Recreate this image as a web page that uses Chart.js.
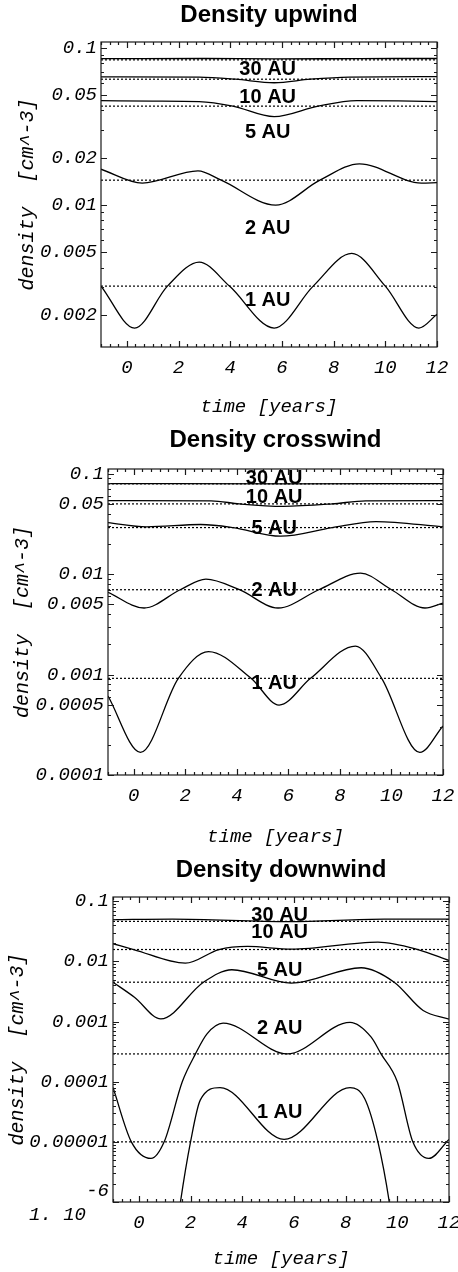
<!DOCTYPE html>
<html>
<head>
<meta charset="utf-8">
<script src="https://cdn.jsdelivr.net/npm/chart.js@4.4.1/dist/chart.umd.min.js"></script>
<style>
  html, body { margin: 0; padding: 0; background: #fff; }
  canvas { position: absolute; left: 0; }
</style>
</head>
<body>
<canvas id="upwind" width="458" height="420" style="top:0px"></canvas>
<canvas id="crosswind" width="458" height="430" style="top:420px"></canvas>
<canvas id="downwind" width="458" height="422" style="top:850px"></canvas>
<script>
// time axis
const timeRange = [-1, 12];
const timeTicks = [0, 2, 4, 6, 8, 10, 12];
const shells = ['30 AU', '10 AU', '5 AU', '2 AU', '1 AU'];

// upwind: [time, density]
const up30 = [[-1, 0.0855], [3, 0.0856], [5.7, 0.0851], [9, 0.0855], [12, 0.0856]];
const up10 = [[-1, 0.0654], [2.8, 0.0651], [4.2, 0.0632], [5.7, 0.0600], [7.1, 0.0632], [8.6, 0.0652], [12, 0.0656]];
const up5 = [[-1, 0.0462], [1, 0.0458], [2.8, 0.0455], [4.1, 0.0426], [5.7, 0.0365], [7.4, 0.0426], [8.9, 0.0462], [10.5, 0.0460], [12, 0.0455]];
const up2 = [[-1, 0.0169], [0.6, 0.0138], [2.75, 0.0165], [3.65, 0.0144], [5.76, 0.0100], [7.47, 0.0144], [9.0, 0.0183], [11.4, 0.0138], [12, 0.0139]];
const up1 = [[-1, 0.00305], [0.3, 0.00165], [1.57, 0.00305], [2.8, 0.00433], [3.97, 0.00305], [5.7, 0.00165], [7.21, 0.00305], [8.7, 0.00492], [10.0, 0.00305], [11.3, 0.00165], [12, 0.00202]];
const upRef = [0.0839, 0.0632, 0.0426, 0.0144, 0.00305];
const upLabelAt = [0.0724, 0.0487, 0.0288, 0.00714, 0.00248];
const upTicks = [0.1, 0.05, 0.02, 0.01, 0.005, 0.002];
const upRange = [0.00125, 0.109];

// crosswind
const cross30 = [[-1, 0.0795], [6, 0.0790], [12, 0.0795]];
const cross10 = [[-1, 0.0538], [3, 0.0535], [4.1, 0.0499], [5.8, 0.0472], [7.7, 0.0499], [9, 0.0535], [12, 0.0538]];
const cross5 = [[-1, 0.0325], [0.5, 0.0295], [2.6, 0.0311], [3.85, 0.0290], [5.7, 0.0238], [7.7, 0.0290], [9.4, 0.0333], [12, 0.0295]];
const cross2 = [[-1, 0.00658], [0.4, 0.00459], [1.8, 0.00698], [2.8, 0.0089], [4.1, 0.00698], [5.6, 0.00459], [7.18, 0.00698], [8.8, 0.0102], [10.0, 0.00698], [11.3, 0.00459], [12, 0.00514]];
const cross1 = [[-1, 0.000611], [0.26, 0.000168], [1.73, 0.000916], [2.9, 0.00169], [4.55, 0.000916], [5.64, 0.000497], [6.86, 0.000916], [8.6, 0.00192], [9.62, 0.000916], [11.1, 0.000168], [12, 0.000308]];
const crossRef = [0.0790, 0.0499, 0.0290, 0.00698, 0.000916];
const crossLabelAt = [0.0898, 0.058, 0.0286, 0.00693, 0.000822];
const crossTicks = [0.1, 0.05, 0.01, 0.005, 0.001, 0.0005, 0.0001];
const crossRange = [0.0001, 0.111];

// downwind
const down30 = [[-1, 0.0495], [1.3, 0.0507], [5.8, 0.0459], [9.5, 0.0505], [12, 0.0507]];
const down10 = [[-1, 0.0197], [-0.2, 0.0158], [1.8, 0.00937], [3.1, 0.0158], [4.2, 0.0178], [5.9, 0.0160], [9.25, 0.0210], [10.8, 0.0158], [12, 0.0104]];
const down5 = [[-1, 0.00452], [-0.17, 0.00254], [0.85, 0.00111], [2.5, 0.00452], [3.6, 0.00728], [5.9, 0.00435], [8.6, 0.00786], [9.88, 0.00452], [11, 0.00153], [12, 0.0011]];
const down2 = [[-1, 8.0e-5], [-0.29, 1e-5], [0.47, 5.3e-6], [0.98, 1e-5], [1.68, 1e-4], [2.19, 2.9e-4], [2.63, 6.2e-4], [3.26, 9.4e-4], [5.74, 2.9e-4], [8.17, 9.7e-4], [8.99, 5.5e-4], [9.37, 2.9e-4], [10.0, 1e-4], [10.6, 1e-5], [11.22, 5.3e-6], [12, 1.1e-5]];
const down1 = [[1.45, 3e-7], [1.61, 1e-6], [2.0, 1e-5], [2.38, 5e-5], [3.14, 8e-5], [5.62, 1.1e-5], [8.17, 8e-5], [8.74, 5.2e-5], [9.25, 1e-5], [9.69, 1e-6], [9.85, 3e-7]];
const downRef = [0.0464, 0.0158, 0.00452, 0.00029, 1e-5];
const downLabelAt = [0.0585, 0.0308, 0.00708, 0.000755, 3.08e-5];
const downTicks = [0.1, 0.01, 0.001, 0.0001, 0.00001, 0.000001];
const downRange = [1e-6, 0.118];

const labelTime = 5.45;

const monoFont = { family: '"Liberation Mono", "DejaVu Sans Mono", monospace', style: 'italic', size: 19 };

// inward frame ticks on all four sides, like the original plot frame
function framePlugin(majorY) {
    return {
        id: 'frame',
        afterDatasetsDraw(chart) {
            const { ctx, chartArea: a, scales: { x, y } } = chart;
            ctx.save();
            ctx.strokeStyle = '#1a1a1a';
            ctx.lineWidth = 1.2;
            ctx.strokeRect(a.left, a.top, a.right - a.left, a.bottom - a.top);
            ctx.beginPath();
            for (let k = Math.ceil(x.min * 3); k <= x.max * 3 + 0.01; k++) {
                const px = Math.round(x.getPixelForValue(k / 3)) + 0.5;
                const len = k % 6 === 0 ? 6 : 3;
                ctx.moveTo(px, a.bottom); ctx.lineTo(px, a.bottom - len);
                ctx.moveTo(px, a.top); ctx.lineTo(px, a.top + len);
            }
            const e0 = Math.floor(Math.log10(y.min)), e1 = Math.ceil(Math.log10(y.max));
            for (let e = e0; e <= e1; e++) {
                for (let m = 1; m <= 9; m++) {
                    const v = m * Math.pow(10, e);
                    if (v < y.min * 0.999 || v > y.max) continue;
                    const py = Math.round(y.getPixelForValue(v)) + 0.5;
                    const len = majorY.some(t => Math.abs(t - v) / t < 1e-6) ? 6 : 3;
                    ctx.moveTo(a.left, py); ctx.lineTo(a.left + len, py);
                    ctx.moveTo(a.right, py); ctx.lineTo(a.right - len, py);
                }
            }
            ctx.stroke();
            ctx.restore();
        }
    };
}

function shellLabelPlugin(labelAt) {
    return {
        id: 'shellLabels',
        afterDatasetsDraw(chart) {
            const { ctx, scales: { x, y } } = chart;
            ctx.save();
            ctx.font = 'bold 20px "Liberation Sans", Arial, sans-serif';
            ctx.fillStyle = '#000';
            ctx.textAlign = 'center';
            ctx.textBaseline = 'middle';
            shells.forEach((s, i) => {
                ctx.fillText(s, x.getPixelForValue(labelTime), y.getPixelForValue(labelAt[i]));
            });
            ctx.restore();
        }
    };
}

// the 1e-6 tick is written Mathematica-style as "1. 10" with a raised "-6"
const powerTickPlugin = {
    id: 'powerTick',
    afterDraw(chart) {
        const { ctx, chartArea: a, scales: { y } } = chart;
        const py = y.getPixelForValue(1e-6);
        ctx.save();
        ctx.font = 'italic 19px "Liberation Mono", monospace';
        ctx.fillStyle = '#000';
        ctx.textAlign = 'right';
        ctx.textBaseline = 'middle';
        ctx.fillText('-6', a.left - 4, py - 11);
        ctx.fillText('1. 10', a.left - 27, py + 13);
        ctx.restore();
    }
};

function makeChart(id, o) {
    const datasets = [];
    o.curves.forEach(c => datasets.push({
        data: c.map(([t, n]) => ({ x: t, y: n })),
        borderColor: '#000',
        borderWidth: 1.3,
        pointRadius: 0,
        fill: false,
        cubicInterpolationMode: 'monotone',
    }));
    o.refs.forEach(r => datasets.push({
        data: timeRange.map(t => ({ x: t, y: r })),
        borderColor: '#000',
        borderWidth: 1.2,
        borderDash: [2, 2],
        pointRadius: 0,
        fill: false,
    }));

    const plugins = [framePlugin(o.ticks), shellLabelPlugin(o.labelAt)];
    if (o.powerTick) plugins.push(powerTickPlugin);

    new Chart(document.getElementById(id), {
        type: 'line',
        data: { datasets },
        plugins,
        options: {
            responsive: false,
            animation: false,
            events: [],
            layout: { padding: { left: 0, right: 458 - o.area[2], top: 0, bottom: 0 } },
            plugins: {
                legend: { display: false },
                tooltip: { enabled: false },
                title: {
                    display: true,
                    text: o.title,
                    fullSize: false,
                    color: '#000',
                    font: { family: '"Liberation Sans", Arial, sans-serif', size: 24, weight: 'bold', lineHeight: 1.2 },
                    padding: { top: o.titleY - 14.4, bottom: o.area[1] - (o.titleY - 14.4) - 28.8 },
                },
            },
            scales: {
                x: {
                    type: 'linear',
                    min: timeRange[0],
                    max: timeRange[1],
                    grid: { display: false, drawTicks: false },
                    border: { display: false },
                    afterBuildTicks: s => { s.ticks = timeTicks.map(v => ({ value: v })); },
                    afterFit: s => { s.height = o.height - o.area[3]; s.paddingLeft = 0; s.paddingRight = 0; },
                    ticks: { color: '#000', font: monoFont, padding: 10, maxRotation: 0, autoSkip: false, callback: v => String(v) },
                    title: { display: true, text: 'time [years]', color: '#000', font: { ...monoFont, size: 19 }, padding: { top: 0, bottom: 1.5 } },
                },
                y: {
                    type: 'logarithmic',
                    min: o.range[0],
                    max: o.range[1],
                    grid: { display: false, drawTicks: false },
                    border: { display: false },
                    afterBuildTicks: s => { s.ticks = o.ticks.map(v => ({ value: v })); },
                    afterFit: s => { s.width = o.area[0]; s.paddingTop = 0; s.paddingBottom = 0; },
                    ticks: { color: '#000', font: monoFont, padding: 4, autoSkip: false, callback: v => (v < 5e-7 || (o.powerTick && v === 1e-6)) ? '' : String(v) },
                    title: { display: true, text: 'density  [cm^-3]', color: '#000', font: { ...monoFont, size: 20 }, padding: { top: o.yTitleX - 12, bottom: 0 } },
                },
            },
        },
    });
}

makeChart('upwind', {
    title: 'Density upwind', curves: [up30, up10, up5, up2, up1], refs: upRef, labelAt: upLabelAt,
    ticks: upTicks, range: upRange, height: 420, area: [101, 42, 437, 347], titleY: 15, yTitleX: 28,
});
makeChart('crosswind', {
    title: 'Density crosswind', curves: [cross30, cross10, cross5, cross2, cross1], refs: crossRef, labelAt: crossLabelAt,
    ticks: crossTicks, range: crossRange, height: 430, area: [108, 49, 443, 355], titleY: 20, yTitleX: 23,
});
makeChart('downwind', {
    title: 'Density downwind', curves: [down30, down10, down5, down2, down1], refs: downRef, labelAt: downLabelAt,
    ticks: downTicks, range: downRange, height: 422, area: [113, 47, 449, 352], titleY: 20, yTitleX: 18, powerTick: true,
});
</script>
</body>
</html>
